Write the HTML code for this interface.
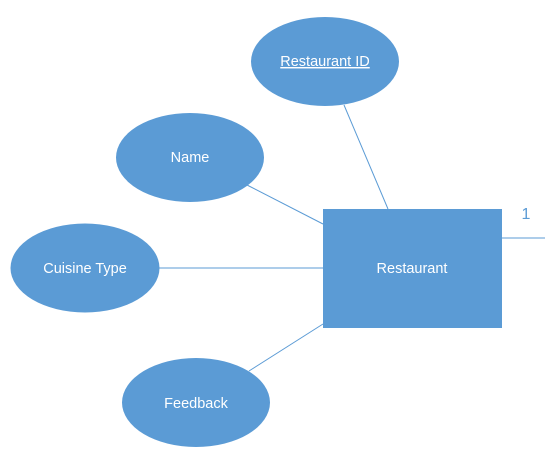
<!DOCTYPE html>
<html><head><style>body{margin:0;background:#fff}svg{display:block}text{font-family:"Liberation Sans",sans-serif;font-size:14.5px;fill:#fff}</style></head>
<body>
<svg width="545" height="467" viewBox="0 0 545 467">
<g stroke="#5b9bd5" stroke-width="1" fill="none">
<line x1="344" y1="105" x2="388" y2="209"/>
<line x1="247" y1="185" x2="323" y2="224"/>
<line x1="159" y1="268" x2="323" y2="268"/>
<line x1="249" y1="371" x2="323" y2="324"/>
<line x1="502" y1="238" x2="545" y2="238"/>
</g>
<g fill="#5b9bd5">
<ellipse cx="325" cy="61.5" rx="74" ry="44.5"/>
<ellipse cx="190" cy="157.5" rx="74" ry="44.5"/>
<ellipse cx="85" cy="268" rx="74.5" ry="44.5"/>
<ellipse cx="196" cy="402.5" rx="74" ry="44.5"/>
<rect x="323" y="209" width="179" height="119"/>
</g>
<text x="325" y="66" text-anchor="middle" text-decoration="underline">Restaurant ID</text>
<text x="190" y="162" text-anchor="middle">Name</text>
<text x="85" y="273" text-anchor="middle">Cuisine Type</text>
<text x="196" y="408" text-anchor="middle">Feedback</text>
<text x="412" y="273" text-anchor="middle">Restaurant</text>
<text x="526" y="219" text-anchor="middle" style="fill:#5b9bd5;font-size:16px">1</text>
</svg>
</body></html>
